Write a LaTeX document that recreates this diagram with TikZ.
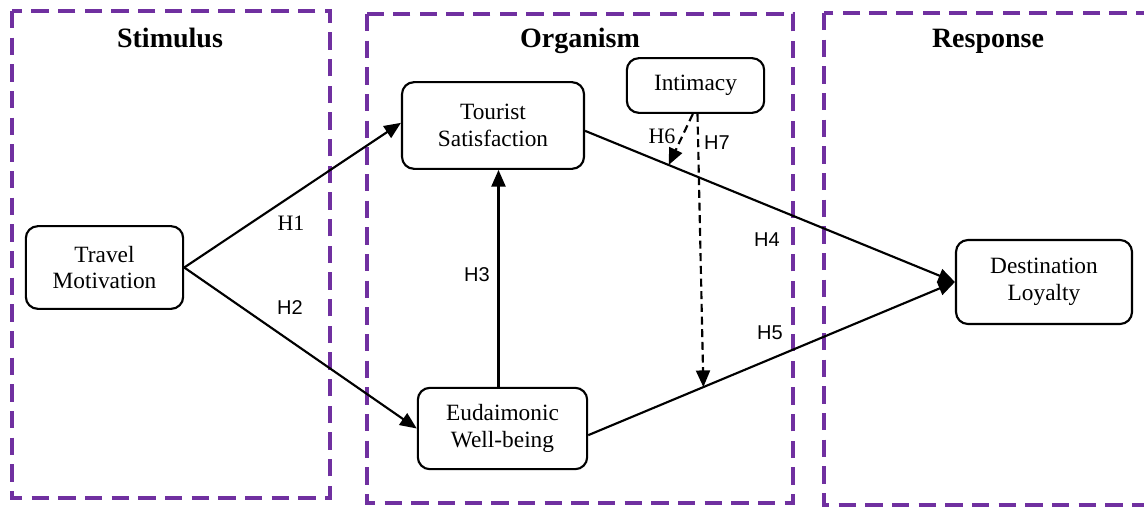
\documentclass[tikz,border=0pt]{standalone}
\usepackage{fontspec}
\setmainfont{Liberation Serif}
\newfontfamily\hsans{Liberation Sans}
\definecolor{stagepurple}{HTML}{7030A0}
\usetikzlibrary{arrows.meta,positioning}

\tikzset{
  stagebox/.style={draw=stagepurple, line width=2.6pt, dash pattern=on 13pt off 7pt},
  stagetitle/.style={font=\fontsize{21}{24}\selectfont\bfseries},
  construct/.style={draw, line width=1.6pt, rounded corners=9pt, align=center,
    font=\fontsize{17.5}{20}\selectfont, inner sep=2pt},
  hyparrow/.style={line width=1.6pt, -{Triangle[length=12.5pt,width=10.5pt]}},
  modarrow/.style={hyparrow, dash pattern=on 6pt off 3.5pt},
  hyp/.style={font=\fontsize{15}{18}\selectfont\hsans},
  hypserif/.style={font=\fontsize{16.5}{18}\selectfont}
}

\begin{document}
\begin{tikzpicture}[x=0.75pt, y=-0.75pt]
  \useasboundingbox (0,0) rectangle (1144,507);

  % stages
  \draw[stagebox] (12,11) rectangle (330,498);
  \draw[stagebox] (367,14) rectangle (793,503);
  \draw[stagebox] (824,13) rectangle (1150,505);
  \node[stagetitle] (stim) at (170,38) {Stimulus};
  \node[stagetitle] (org) at (580,41) {Organism};
  \node[stagetitle] (resp) at (988,41) {Response};

  % constructs
  \node[construct, minimum width=118pt, minimum height=62pt] (tm) at (104.5,267.5) {Travel\\Motivation};
  \node[construct, minimum width=136.5pt, minimum height=65pt] (ts) at (493,125.5) {Tourist\\Satisfaction};
  \node[construct, minimum width=103pt, minimum height=41pt] (intim) at (695.5,85.5) {Intimacy};
  \node[construct, minimum width=127pt, minimum height=61pt] (ew) at (502.5,428.5) {Eudaimonic\\Well-being};
  \node[construct, minimum width=132pt, minimum height=63pt] (dl) at (1044,282) {Destination\\Loyalty};

  % hypotheses
  \draw[hyparrow] (tm.east) -- ([yshift=2pt]ts.west);
  \draw[hyparrow] (tm.east) -- (ew.west);
  \draw[hyparrow] ([xshift=-3pt]ew.north) -- ([xshift=-3pt]ew.north |- ts.south);
  \draw[hyparrow] ([yshift=-4pt]ts.east) -- coordinate[pos=0.226] (h6end) (dl.west);
  \draw[hyparrow] ([yshift=-5pt]ew.east) -- coordinate[pos=0.314] (h7end) (dl.west);
  \draw[modarrow] ([xshift=-2pt]intim.south) -- (h6end);
  \draw[modarrow] ([xshift=1.5pt]intim.south) -- (h7end);

  \node[hypserif] (h1) at (291,223) {H1};
  \node[hyp] (h2) at (290,308) {H2};
  \node[hyp] (h3) at (477,275) {H3};
  \node[hyp] (h4) at (767,240) {H4};
  \node[hyp] (h5) at (770,333) {H5};
  \node[hypserif] (h6) at (662,136) {H6};
  \node[hyp] (h7) at (717,143) {H7};
\end{tikzpicture}
\end{document}
